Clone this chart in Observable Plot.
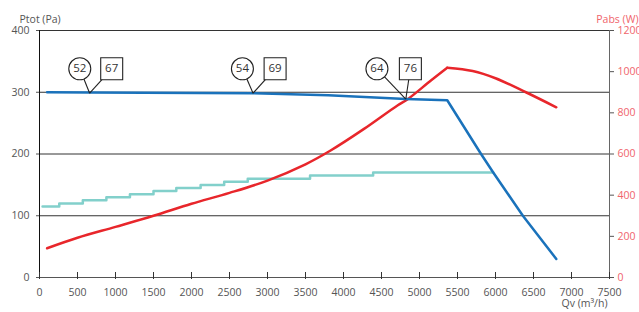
<!DOCTYPE html>
<html><head><meta charset="utf-8">
<script src="https://cdn.jsdelivr.net/npm/d3@7"></script>
<script src="https://cdn.jsdelivr.net/npm/@observablehq/plot@0.6"></script>
<style>html,body{margin:0;padding:0;background:#fff}svg{display:block}</style>
</head><body><div id="chart"></div>
<script>
// Qv (m3/h) ticks and Ptot / Pabs ticks
const qvTicks = [0, 500, 1000, 1500, 2000, 2500, 3000, 3500, 4000, 4500, 5000, 5500, 6000, 6500, 7000, 7500];
const ptotTicks = [0, 100, 200, 300, 400];
const pabsTicks = [0, 200, 400, 600, 800, 1000, 1200];
const gridLevels = [100, 200, 300, 400];

// Ptot curve (Pa)
const ptotQv = [100, 660, 2810, 3800, 4820, 5365, 5810, 5970, 6360, 6800];
const ptotVal = [300, 299.5, 298.5, 295, 289, 287, 200, 170, 100, 30];

// Pabs curve (W), rising and falling parts
const pabsRiseQv = [100, 500, 1000, 1500, 2000, 2500, 3000, 3500, 3830, 4270, 4710, 4840, 5150, 5365];
const pabsRiseVal = [142, 193, 246, 300, 358, 411, 471, 550, 617, 722, 836, 865, 957, 1019];
const pabsFallQv = [5365, 5700, 6000, 6400, 6800];
const pabsFallVal = [1019, 1003, 968, 900, 827];

// stepped curve (left scale)
const stepQv = [40, 260, 570, 880, 1190, 1500, 1800, 2120, 2430, 2740, 3560, 4390, 5970];
const stepVal = [115, 120, 125, 130, 135, 140, 145, 150, 155, 160, 165, 170, 170];

// operating point annotations
const annQv = [660, 2810, 4820];
const annPtot = [298.5, 298.5, 289];
const circleLabels = ["52", "54", "64"];
const boxLabels = ["67", "69", "76"];
const circleQv = [530, 2670, 4440];
const boxQv = [950, 3100, 4880];
const labelPtot = 338;

const PABS_RATIO = 3; // 1200 W on right axis == 400 Pa on left axis
const zip = (xs, ys) => xs.map((x, i) => ({x, y: ys[i]}));
const ptot = zip(ptotQv, ptotVal);
const pabsRise = zip(pabsRiseQv, pabsRiseVal.map(v => v / PABS_RATIO));
const pabsFall = zip(pabsFallQv, pabsFallVal.map(v => v / PABS_RATIO));
const steps = zip(stepQv, stepVal);
const ann = annQv.map((x, i) => ({x, y: annPtot[i], cx: circleQv[i], bx: boxQv[i], c: circleLabels[i], b: boxLabels[i]}));

const red = "#e8262b", redText = "#f0646b", blue = "#1a72bb", cyan = "#82d0cb", gray = "#555";

const chart = Plot.plot({
  width: 639, height: 312,
  marginLeft: 39, marginRight: 30, marginTop: 30, marginBottom: 35,
  style: {fontFamily: "'Open Sans', sans-serif", fontSize: "10.5px", background: "#fff", overflow: "visible"},
  x: {domain: [0, 7500]},
  y: {domain: [0, 400]},
  marks: [
    Plot.ruleY(gridLevels, {stroke: "#333", strokeWidth: 1}),
    Plot.ruleY([0], {stroke: "#555"}),
    Plot.ruleX([7500], {stroke: "#666"}),
    Plot.ruleX([0], {stroke: "#111"}),
    Plot.axisY(ptotTicks, {anchor: "left", tickSize: 3, tickPadding: 7, color: gray, label: null, tickFormat: d => String(d)}),
    Plot.axisY(pabsTicks.map(v => v / PABS_RATIO), {anchor: "right", tickSize: 4, tickPadding: 4, color: redText, stroke: "#555", label: null, tickFormat: d => String(Math.round(d * PABS_RATIO))}),
    Plot.axisX(qvTicks, {anchor: "bottom", tickSize: 0, tickPadding: 11, color: gray, label: null, tickFormat: d => String(d)}),
    Plot.tickX(qvTicks, {x: d => d, insetTop: 242, insetBottom: -2, stroke: "#333"}),
    Plot.text(["Ptot (Pa)"], {frameAnchor: "top-left", dx: -20, dy: -15, textAnchor: "start", fill: gray}),
    Plot.text(["Pabs (W)"], {frameAnchor: "top-right", dx: 29, dy: -15, textAnchor: "end", fill: redText}),
    Plot.text(["Qv (m³/h)"], {frameAnchor: "bottom-right", dx: -2, dy: 29, textAnchor: "end", fill: gray}),
    Plot.line(steps, {x: "x", y: "y", curve: "step-after", stroke: cyan, strokeWidth: 2.5}),
    Plot.line(pabsRise, {x: "x", y: "y", curve: "catmull-rom", stroke: red, strokeWidth: 2.5}),
    Plot.line(pabsFall, {x: "x", y: "y", curve: "catmull-rom", stroke: red, strokeWidth: 2.5}),
    Plot.line(ptot, {x: "x", y: "y", stroke: blue, strokeWidth: 2.5}),
    Plot.link(ann, {x1: "cx", y1: labelPtot, x2: "x", y2: "y", stroke: "#222", strokeWidth: 1.1}),
    Plot.link(ann, {x1: "bx", y1: labelPtot, x2: "x", y2: "y", stroke: "#222", strokeWidth: 1.1}),
    Plot.dot(ann, {x: "cx", y: labelPtot, r: 11, fill: "#fff", stroke: "#222", strokeWidth: 1.1}),
    Plot.dot(ann, {x: "bx", y: labelPtot, r: 12.4, symbol: "square", fill: "#fff", stroke: "#222", strokeWidth: 1.1}),
    Plot.text(ann, {x: "cx", y: labelPtot, text: "c", fill: "#333", fontSize: 11.5}),
    Plot.text(ann, {x: "bx", y: labelPtot, text: "b", fill: "#333", fontSize: 11.5})
  ]
});
document.getElementById("chart").appendChild(chart);
</script>
</body></html>
